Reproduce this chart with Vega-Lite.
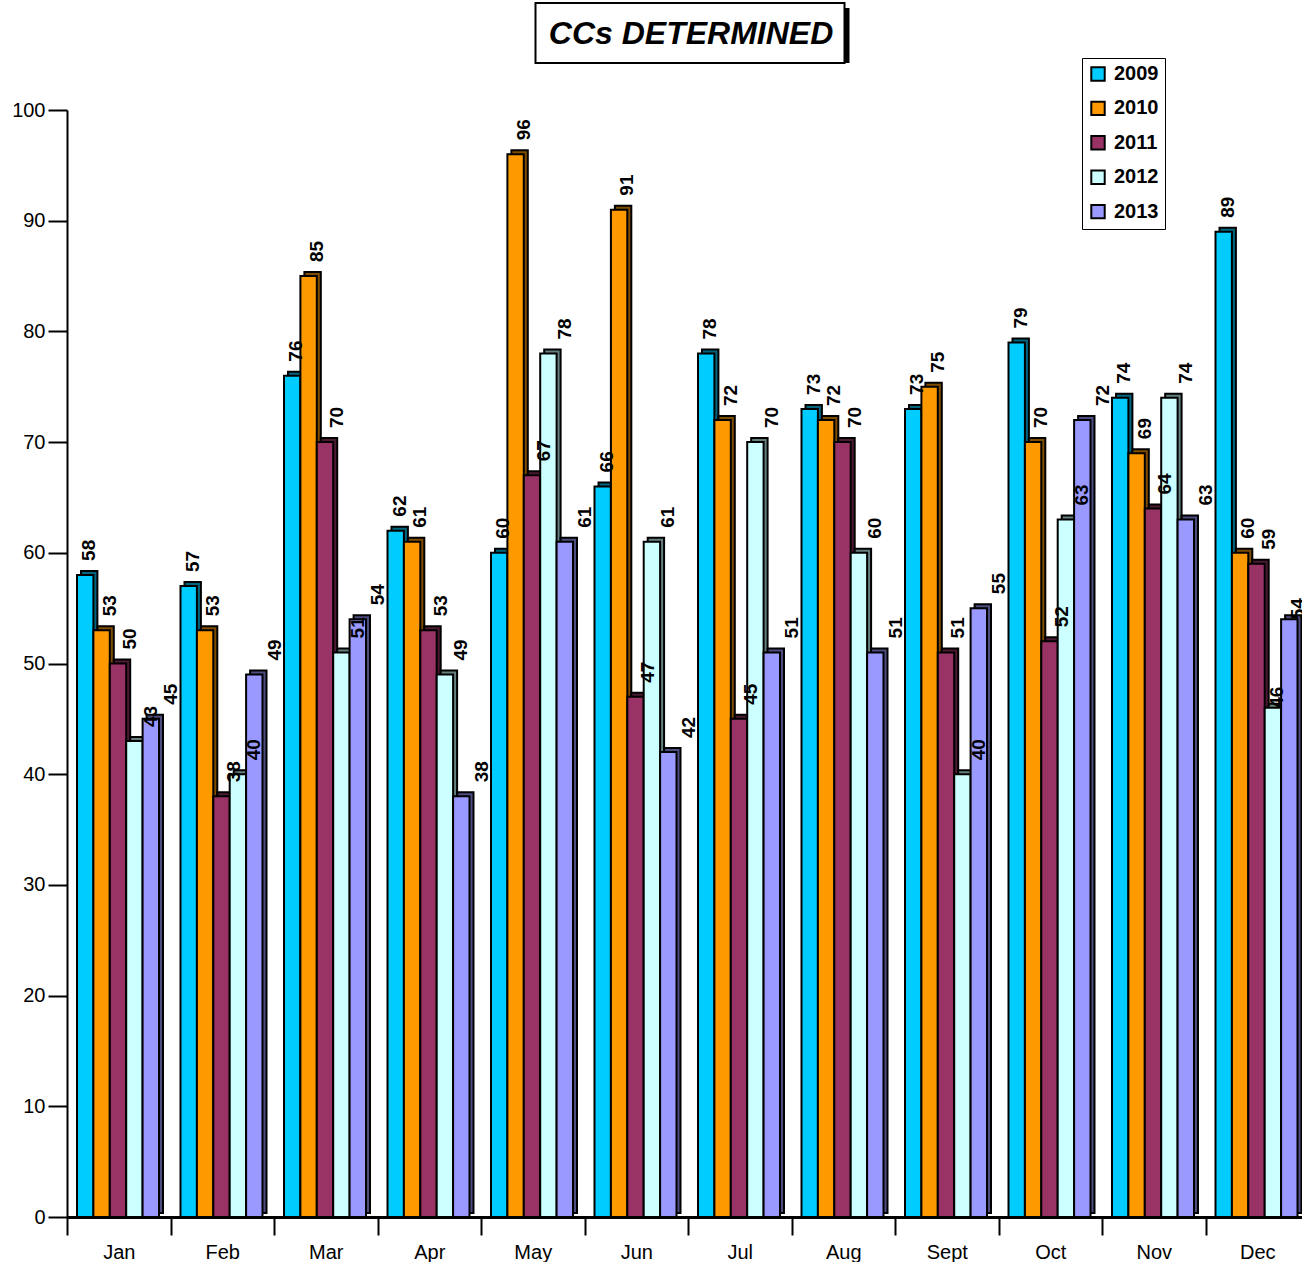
{
  "$schema": "https://vega.github.io/schema/vega-lite/v6.json",
  "autosize": {"type": "pad"},
  "padding": {"left": 11, "top": 2, "right": 0, "bottom": 0},
  "background": "white",
  "config": {
    "font": "Liberation Sans",
    "view": {"stroke": null}
  },
  "bounds": "flush",
  "center": true,
  "spacing": 47,
  "datasets": {
    "cc": [
      {"month": "Jan", "year": "2009", "value": 58}, {"month": "Jan", "year": "2010", "value": 53}, {"month": "Jan", "year": "2011", "value": 50}, {"month": "Jan", "year": "2012", "value": 43}, {"month": "Jan", "year": "2013", "value": 45},
      {"month": "Feb", "year": "2009", "value": 57}, {"month": "Feb", "year": "2010", "value": 53}, {"month": "Feb", "year": "2011", "value": 38}, {"month": "Feb", "year": "2012", "value": 40}, {"month": "Feb", "year": "2013", "value": 49},
      {"month": "Mar", "year": "2009", "value": 76}, {"month": "Mar", "year": "2010", "value": 85}, {"month": "Mar", "year": "2011", "value": 70}, {"month": "Mar", "year": "2012", "value": 51}, {"month": "Mar", "year": "2013", "value": 54},
      {"month": "Apr", "year": "2009", "value": 62}, {"month": "Apr", "year": "2010", "value": 61}, {"month": "Apr", "year": "2011", "value": 53}, {"month": "Apr", "year": "2012", "value": 49}, {"month": "Apr", "year": "2013", "value": 38},
      {"month": "May", "year": "2009", "value": 60}, {"month": "May", "year": "2010", "value": 96}, {"month": "May", "year": "2011", "value": 67}, {"month": "May", "year": "2012", "value": 78}, {"month": "May", "year": "2013", "value": 61},
      {"month": "Jun", "year": "2009", "value": 66}, {"month": "Jun", "year": "2010", "value": 91}, {"month": "Jun", "year": "2011", "value": 47}, {"month": "Jun", "year": "2012", "value": 61}, {"month": "Jun", "year": "2013", "value": 42},
      {"month": "Jul", "year": "2009", "value": 78}, {"month": "Jul", "year": "2010", "value": 72}, {"month": "Jul", "year": "2011", "value": 45}, {"month": "Jul", "year": "2012", "value": 70}, {"month": "Jul", "year": "2013", "value": 51},
      {"month": "Aug", "year": "2009", "value": 73}, {"month": "Aug", "year": "2010", "value": 72}, {"month": "Aug", "year": "2011", "value": 70}, {"month": "Aug", "year": "2012", "value": 60}, {"month": "Aug", "year": "2013", "value": 51},
      {"month": "Sept", "year": "2009", "value": 73}, {"month": "Sept", "year": "2010", "value": 75}, {"month": "Sept", "year": "2011", "value": 51}, {"month": "Sept", "year": "2012", "value": 40}, {"month": "Sept", "year": "2013", "value": 55},
      {"month": "Oct", "year": "2009", "value": 79}, {"month": "Oct", "year": "2010", "value": 70}, {"month": "Oct", "year": "2011", "value": 52}, {"month": "Oct", "year": "2012", "value": 63}, {"month": "Oct", "year": "2013", "value": 72},
      {"month": "Nov", "year": "2009", "value": 74}, {"month": "Nov", "year": "2010", "value": 69}, {"month": "Nov", "year": "2011", "value": 64}, {"month": "Nov", "year": "2012", "value": 74}, {"month": "Nov", "year": "2013", "value": 63},
      {"month": "Dec", "year": "2009", "value": 89}, {"month": "Dec", "year": "2010", "value": 60}, {"month": "Dec", "year": "2011", "value": 59}, {"month": "Dec", "year": "2012", "value": 46}, {"month": "Dec", "year": "2013", "value": 54}
    ]
  },
  "vconcat": [
    {
      "width": 305,
      "height": 60,
      "data": {"values": [{"label": "CCs DETERMINED"}]},
      "layer": [
        {
          "mark": {"type": "rect", "fill": "black", "xOffset": 9, "x2Offset": 9, "yOffset": 5, "y2Offset": 5},
          "encoding": {}
        },
        {
          "mark": {"type": "rect", "fill": "white", "stroke": "black", "strokeWidth": 2, "xOffset": 4, "x2Offset": 4},
          "encoding": {}
        },
        {
          "mark": {"type": "text", "fontSize": 32, "fontWeight": "bold", "fontStyle": "italic", "align": "center", "baseline": "middle", "dx": 3, "dy": 1, "color": "black"},
          "encoding": {"text": {"field": "label", "type": "nominal"}}
        }
      ]
    },
    {
      "width": 1242,
      "height": 1107,
      "data": {"name": "cc"},
      "encoding": {
        "x": {
          "field": "month",
          "type": "nominal",
          "sort": ["Jan", "Feb", "Mar", "Apr", "May", "Jun", "Jul", "Aug", "Sept", "Oct", "Nov", "Dec"],
          "scale": {"paddingInner": 0, "paddingOuter": 0},
          "axis": {
            "title": null,
            "labelAngle": 0,
            "domainColor": "black",
            "domainWidth": 3,
            "tickColor": "black",
            "tickWidth": 2,
            "tickSize": 18,
            "tickBand": "extent",
            "labelFontSize": 20,
            "labelColor": "black",
            "labelPadding": 7
          }
        },
        "y": {
          "field": "value",
          "type": "quantitative",
          "scale": {"domain": [0, 100], "nice": false},
          "axis": {
            "title": null,
            "values": [0, 10, 20, 30, 40, 50, 60, 70, 80, 90, 100],
            "grid": false,
            "domainColor": "black",
            "domainWidth": 2,
            "tickColor": "black",
            "tickWidth": 2,
            "tickSize": 19,
            "labelPadding": 3,
            "labelFontSize": 20,
            "labelColor": "black"
          }
        }
      },
      "layer": [
        {
          "mark": {"type": "bar", "stroke": "black", "strokeWidth": 2, "yOffset": -4, "y2Offset": -4},
          "encoding": {
            "xOffset": {"field": "year", "type": "nominal", "scale": {"range": [14, 96], "paddingInner": 0, "paddingOuter": 0}},
            "color": {
              "field": "year",
              "type": "nominal",
              "scale": {"domain": ["2009", "2010", "2011", "2012", "2013"], "range": ["#006680", "#804D00", "#4D1A33", "#668080", "#4D4D80"]},
              "legend": null
            }
          }
        },
        {
          "mark": {"type": "bar", "stroke": "black", "strokeWidth": 2},
          "encoding": {
            "xOffset": {"field": "year", "type": "nominal", "scale": {"range": [10, 92], "paddingInner": 0, "paddingOuter": 0}},
            "color": {
              "field": "year",
              "type": "nominal",
              "scale": {"domain": ["2009", "2010", "2011", "2012", "2013"], "range": ["#00CCFF", "#FF9900", "#993366", "#CCFFFF", "#9999FF"]},
              "legend": {
                "title": null,
                "orient": "none",
                "legendX": 1015,
                "legendY": -52,
                "direction": "vertical",
                "strokeColor": "black",
                "padding": 6,
                "rowPadding": 12.4,
                "symbolType": "square",
                "symbolSize": 180,
                "symbolStrokeColor": "black",
                "symbolStrokeWidth": 2,
                "symbolOpacity": 1,
                "labelOffset": 6,
                "labelFontSize": 20,
                "labelFontWeight": "bold",
                "labelColor": "black"
              }
            }
          }
        },
        {
          "transform": [{"filter": "!(datum.month === 'Dec' && (datum.year === '2012' || datum.year === '2013'))"}],
          "mark": {"type": "text", "angle": 270, "align": "left", "baseline": "middle", "dx": 14, "dy": 12, "fontSize": 19, "fontWeight": "bold", "color": "black"},
          "encoding": {
            "xOffset": {"field": "year", "type": "nominal", "scale": {"domain": ["2009", "2010", "2011", "2012", "2013"], "range": [10, 92], "paddingInner": 0, "paddingOuter": 0}},
            "text": {"field": "value", "type": "quantitative"}
          }
        },
        {
          "transform": [{"filter": "datum.month === 'Dec' && (datum.year === '2012' || datum.year === '2013')"}],
          "mark": {"type": "text", "angle": 270, "align": "left", "baseline": "middle", "dx": 0, "dy": 0, "fontSize": 19, "fontWeight": "bold", "color": "black"},
          "encoding": {
            "xOffset": {"field": "year", "type": "nominal", "scale": {"domain": ["2009", "2010", "2011", "2012", "2013"], "range": [10, 92], "paddingInner": 0, "paddingOuter": 0}},
            "text": {"field": "value", "type": "quantitative"}
          }
        }
      ],
      "resolve": {"scale": {"color": "independent", "xOffset": "independent"}}
    }
  ]
}
